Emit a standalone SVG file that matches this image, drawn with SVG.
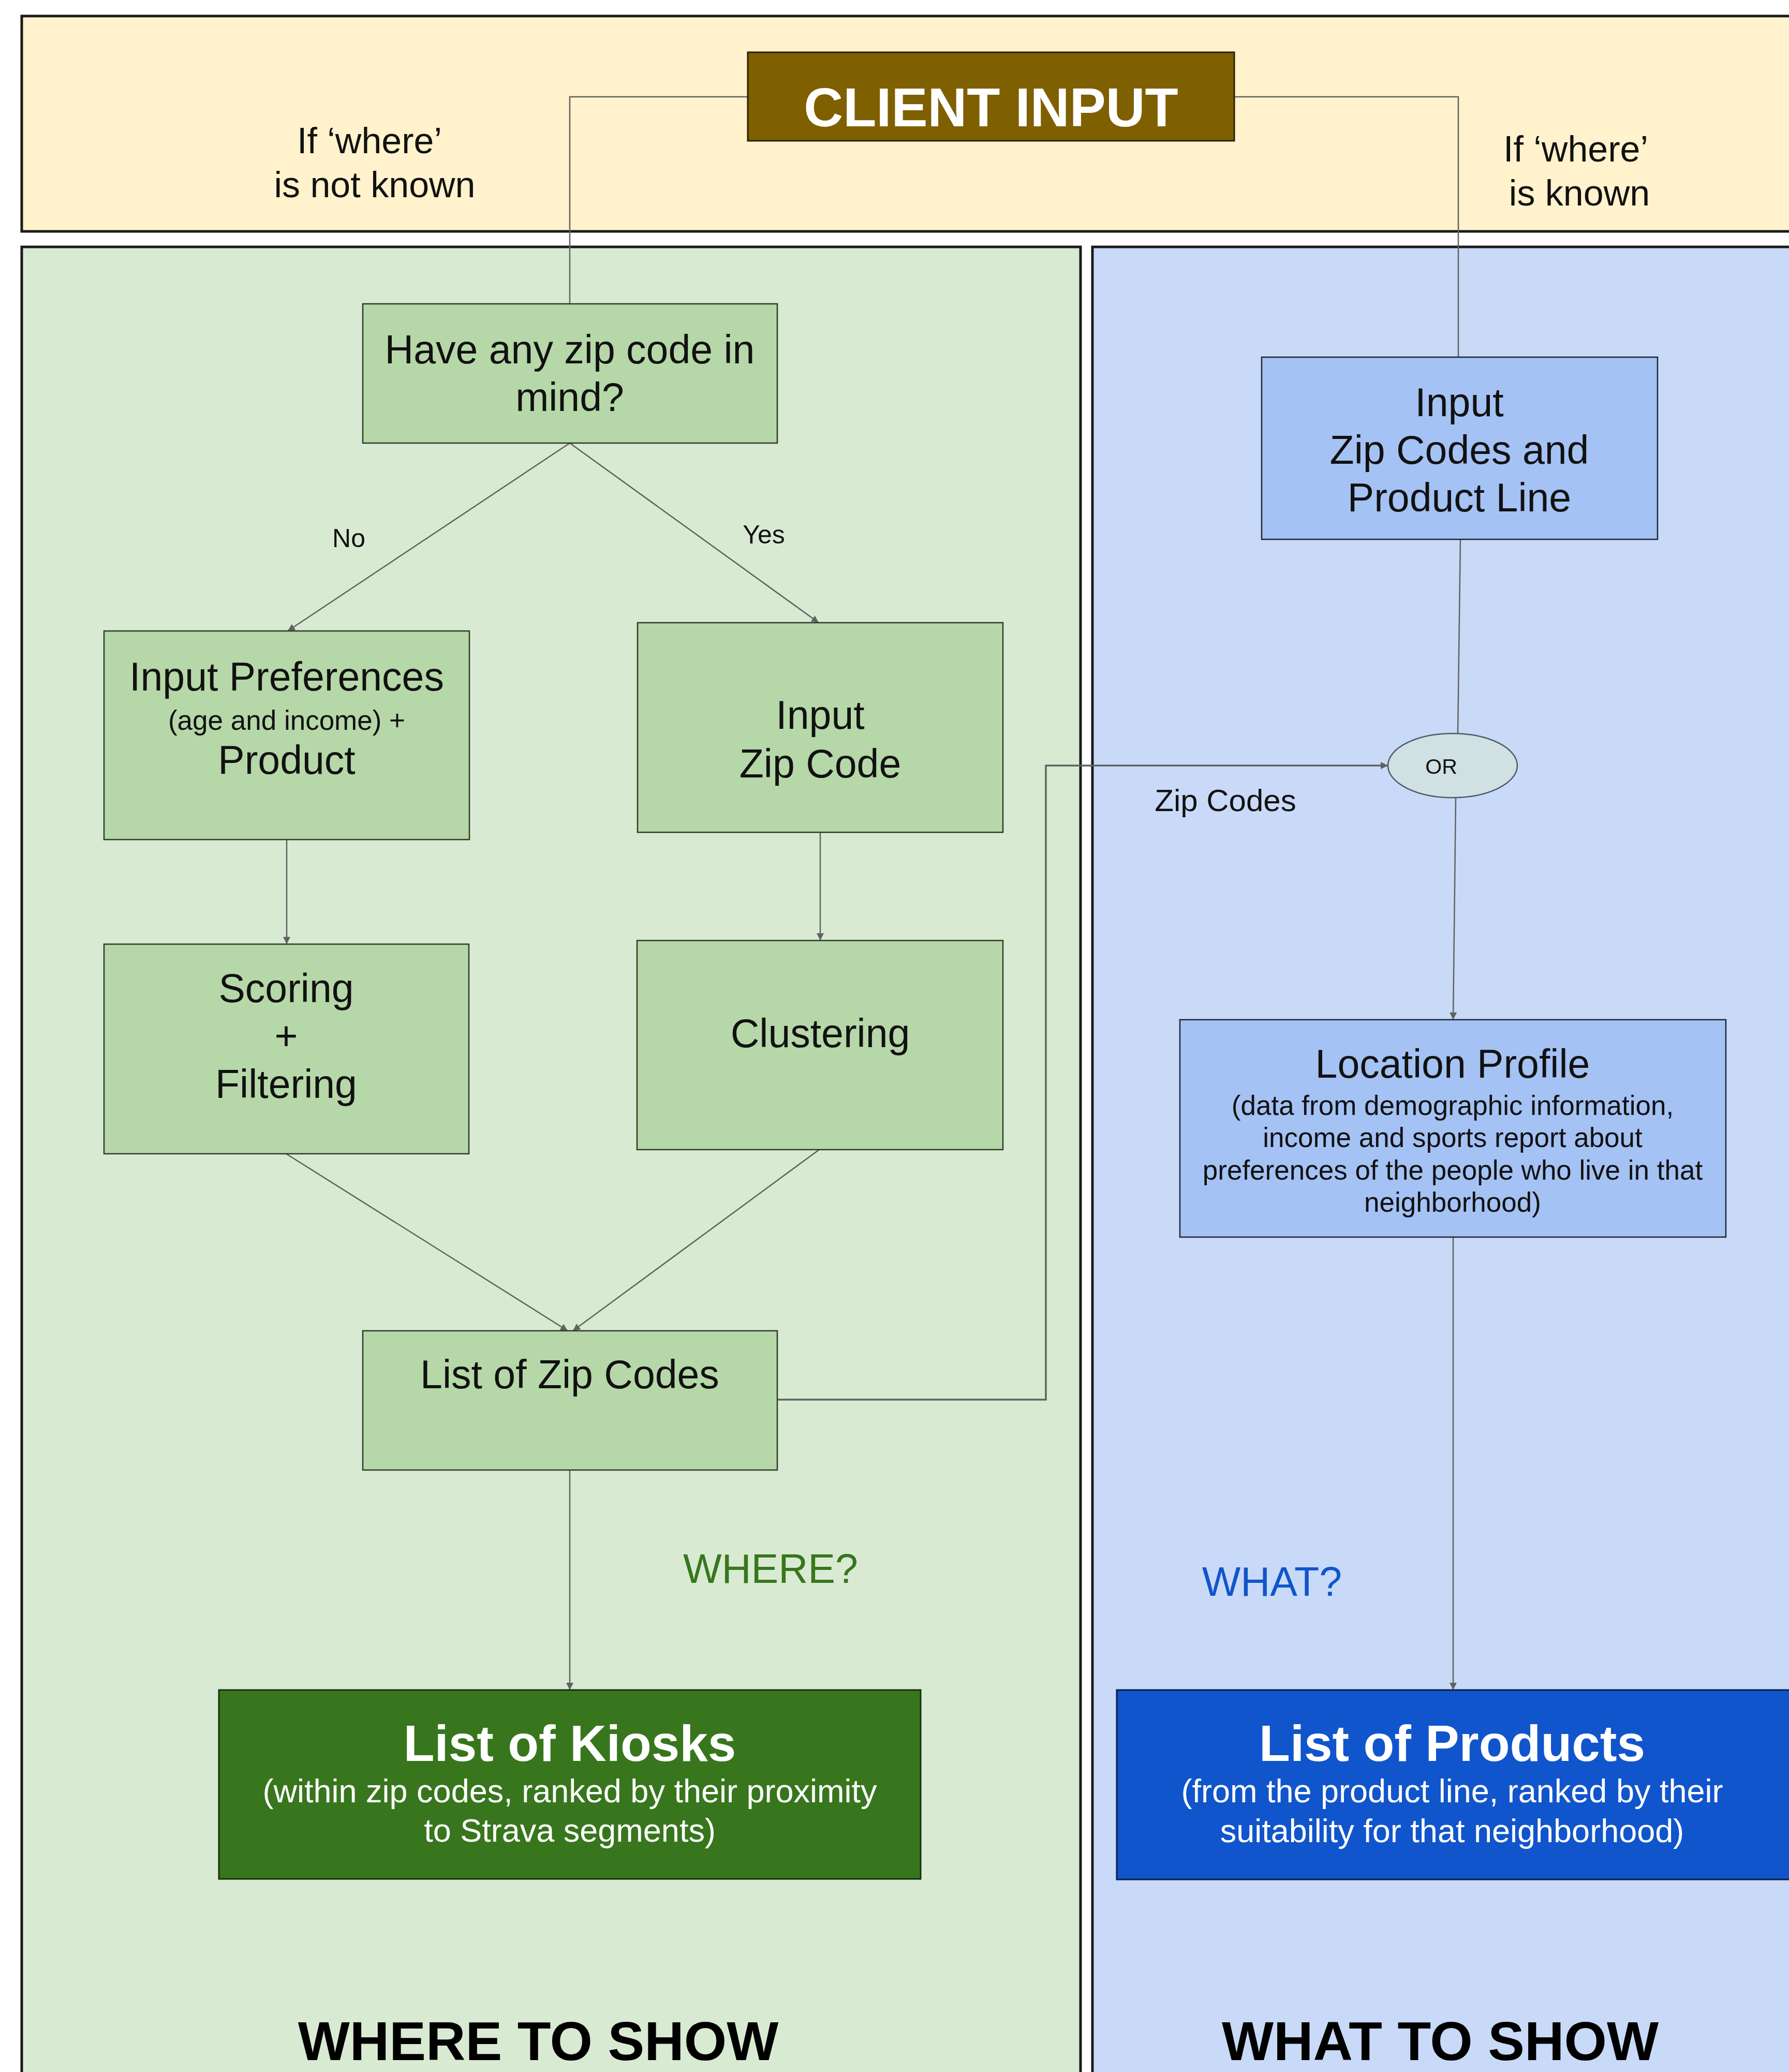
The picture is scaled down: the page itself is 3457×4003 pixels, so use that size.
<svg xmlns="http://www.w3.org/2000/svg" width="3457" height="4003" viewBox="0 0 3457 4003">
<style>
text{font-family:"Liberation Sans",Arial,sans-serif;fill:#111;text-anchor:middle}
.panel{stroke:#1a1a1a;stroke-width:5}
.gbox{fill:#b6d7a8;stroke:#2f3b2a;stroke-width:2.5}
.bbox{fill:#a4c2f4;stroke:#1c2636;stroke-width:2.5}
.main{font-size:77px}
.sub{font-size:53px}
.big{font-size:98px;font-weight:bold;fill:#fff}
.wsub{font-size:63px;fill:#fff}
.conn{fill:none;stroke:#5f6360;stroke-width:2.5}
.lbl{font-size:50px}
.side{font-size:70px}
.foot{font-size:106px;font-weight:bold;fill:#000}
</style>
<defs>
<marker id="ah" markerUnits="userSpaceOnUse" markerWidth="16" markerHeight="14" refX="14" refY="7" orient="auto">
<path d="M0,0 L14,7 L0,14 z" fill="#5f6360"/>
</marker>
</defs>
<rect width="3457" height="4003" fill="#ffffff"/>
<g id="panel-client">
<rect class="panel" x="42" y="31" width="3440" height="416" fill="#fff2cc"/>
<text class="side" x="714" y="296">If ‘where’</text>
<text class="side" x="724" y="381">is not known</text>
<text class="side" x="3045" y="312">If ‘where’</text>
<text class="side" x="3052" y="397">is known</text>
</g>
<g id="panel-where">
<rect class="panel" x="42" y="477" width="2046" height="3560" fill="#d9ead3"/>
<text x="1489" y="3058" style="font-size:79px;fill:#38761d">WHERE?</text>
<text class="foot" x="1040" y="3980">WHERE TO SHOW</text>
</g>
<g id="panel-what">
<rect class="panel" x="2111" y="477" width="1380" height="3560" fill="#c9daf8"/>
<text x="2458" y="3083" style="font-size:79px;fill:#1155cc">WHAT?</text>
<text class="foot" x="2783" y="3980">WHAT TO SHOW</text>
</g>
<g id="connectors">
<path class="conn" d="M1445,187 H1101 V587"/>
<path class="conn" d="M2385,187 H2818 V690"/>
<path class="conn" marker-end="url(#ah)" d="M1101,856 L556,1219"/>
<path class="conn" marker-end="url(#ah)" d="M1101,856 L1582,1203"/>
<path class="conn" marker-end="url(#ah)" d="M554,1622 V1824"/>
<path class="conn" marker-end="url(#ah)" d="M1585,1608 V1817"/>
<path class="conn" marker-end="url(#ah)" d="M553,2229 L1097,2571"/>
<path class="conn" marker-end="url(#ah)" d="M1583,2221 L1107,2571"/>
<path class="conn" marker-end="url(#ah)" d="M1101,2840 V3265"/>
<path class="conn" marker-end="url(#ah)" d="M1502,2704 H2021 V1479 H2682" style="stroke-width:3.5"/>
<path class="conn" d="M2822,1042 L2817,1417"/>
<path class="conn" marker-end="url(#ah)" d="M2813,1542 L2808,1970"/>
<path class="conn" marker-end="url(#ah)" d="M2808,2390 V3265"/>
<text class="lbl" x="674" y="1057">No</text>
<text class="lbl" x="1476" y="1050">Yes</text>
<text x="2368" y="1567" style="font-size:60px">Zip Codes</text>
</g>
<g id="client-input">
<rect x="1445" y="101" width="940" height="171" fill="#7f6000" stroke="#2b2000" stroke-width="3"/>
<text x="1915" y="244" style="font-size:105px;font-weight:bold;fill:#fff">CLIENT INPUT</text>
</g>
<g id="zip-question">
<rect class="gbox" x="701" y="587" width="801" height="269"/>
<text class="main" x="1101" y="702">Have any zip code in</text>
<text class="main" x="1101" y="794">mind?</text>
</g>
<g id="input-preferences">
<rect class="gbox" x="201" y="1219" width="706" height="403"/>
<text class="main" x="554" y="1334">Input Preferences</text>
<text class="sub" x="554" y="1410">(age and income) +</text>
<text class="main" x="554" y="1495">Product</text>
</g>
<g id="input-zip-code">
<rect class="gbox" x="1232" y="1203" width="706" height="405"/>
<text class="main" x="1585" y="1408">Input</text>
<text class="main" x="1585" y="1502">Zip Code</text>
</g>
<g id="scoring">
<rect class="gbox" x="201" y="1824" width="705" height="405"/>
<text class="main" x="553" y="1936">Scoring</text>
<text class="main" x="553" y="2028">+</text>
<text class="main" x="553" y="2121">Filtering</text>
</g>
<g id="clustering">
<rect class="gbox" x="1231" y="1817" width="707" height="404"/>
<text class="main" x="1585" y="2023">Clustering</text>
</g>
<g id="list-zip-codes">
<rect class="gbox" x="701" y="2571" width="801" height="269"/>
<text class="main" x="1101" y="2682">List of Zip Codes</text>
</g>
<g id="list-kiosks">
<rect x="423" y="3265" width="1356" height="365" fill="#38761d" stroke="#1b2f12" stroke-width="3"/>
<text class="big" x="1101" y="3402">List of Kiosks</text>
<text class="wsub" x="1101" y="3482">(within zip codes, ranked by their proximity</text>
<text class="wsub" x="1101" y="3558">to Strava segments)</text>
</g>
<g id="input-zip-codes-product-line">
<rect class="bbox" x="2438" y="690" width="765" height="352"/>
<text class="main" x="2820" y="804">Input</text>
<text class="main" x="2820" y="896">Zip Codes and</text>
<text class="main" x="2820" y="988">Product Line</text>
</g>
<g id="or">
<ellipse cx="2807" cy="1479" rx="125" ry="62" fill="#d0e0e3" stroke="#4d5a66" stroke-width="2.5"/>
<text x="2785" y="1495" style="font-size:41px">OR</text>
</g>
<g id="location-profile">
<rect class="bbox" x="2280" y="1970" width="1055" height="420"/>
<text class="main" x="2807" y="2082">Location Profile</text>
<text class="sub" x="2807" y="2154">(data from demographic information,</text>
<text class="sub" x="2807" y="2216">income and sports report about</text>
<text class="sub" x="2807" y="2279">preferences of the people who live in that</text>
<text class="sub" x="2807" y="2341">neighborhood)</text>
</g>
<g id="list-products">
<rect x="2158" y="3265" width="1320" height="366" fill="#1155cc" stroke="#0a1f4a" stroke-width="3"/>
<text class="big" x="2806" y="3402">List of Products</text>
<text class="wsub" x="2806" y="3482">(from the product line, ranked by their</text>
<text class="wsub" x="2806" y="3559">suitability for that neighborhood)</text>
</g>
</svg>
